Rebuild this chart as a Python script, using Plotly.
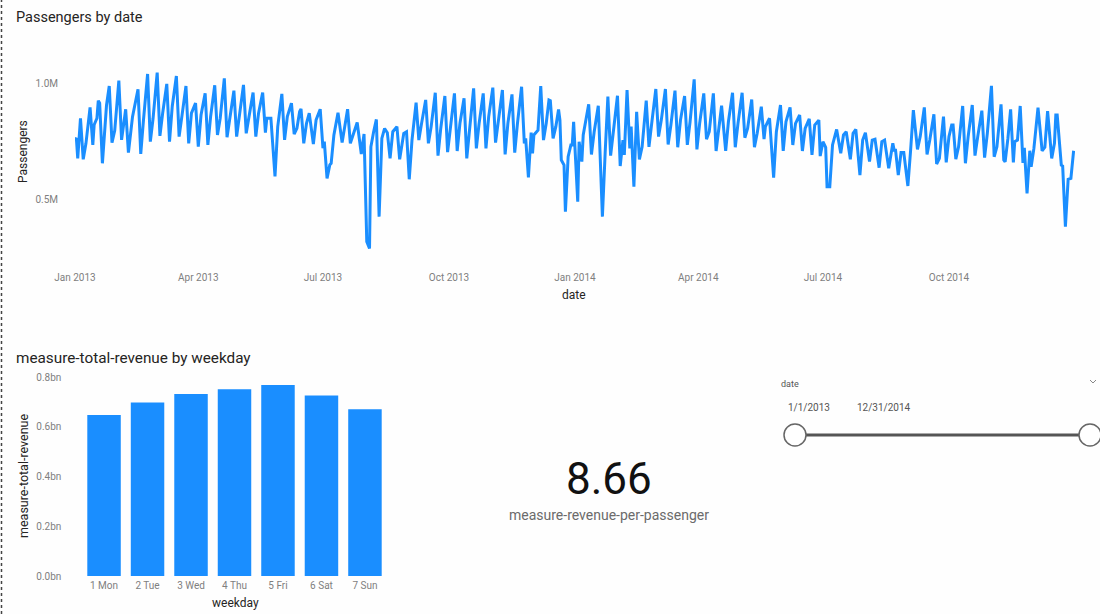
"""Passengers / revenue dashboard page rebuilt with plotly."""

import pandas as pd
import plotly.graph_objects as go

W, H = 1100, 614

days_2013 = [
    0, 1, 2, 4, 6, 8, 11, 13, 14, 16,
    17, 18, 20, 22, 23, 25, 27, 29, 32, 34,
    37, 39, 41, 42, 46, 48, 50, 53, 55, 57,
    60, 62, 64, 67, 69, 71, 74, 76, 78, 81,
    83, 85, 88, 90, 92, 95, 97, 99, 102, 104,
    106, 109, 111, 113, 116, 118, 120, 123, 125, 127,
    130, 132, 134, 137, 139, 140, 143, 146, 148, 151,
    153, 155, 158, 160, 162, 164, 165, 167, 169, 171,
    174, 176, 179, 181, 182, 184, 186, 187, 189, 192,
    195, 199, 201, 206, 209, 211, 213, 215, 216, 218,
    220, 222, 224, 226, 228, 230, 232, 235, 237, 240,
    242, 244, 246, 249, 251, 253, 256, 258, 260, 263,
    265, 267, 270, 272, 274, 277, 279, 281, 284, 286,
    288, 291, 293, 295, 298, 300, 302, 305, 307, 309,
    312, 314, 316, 319, 321, 323, 326, 328, 329, 331,
    333, 334, 335, 338, 340, 342, 344, 346, 347, 349,
    351, 353, 354, 355, 357, 358, 360, 362, 363, 364,
]
passengers_2013 = [
    .757, .762, .675, .848, .671, .74, .895, .733, .82, .848,
    .924, .913, .654, .826, .904, .987, .743, .795, 1.01, .755,
    .887, .70, .81, .855, .973, .694, .841, 1.039, .747, .848,
    1.045, .772, .87, .996, .747, .90, 1.03, .769, .855, .987,
    .74, .87, .913, .726, .862, .956, .733, .855, .99, .776,
    .848, 1.02, .766, .84, .967, .769, .855, .992, .783, .855,
    .959, .769, .87, .959, .786, .848, .848, .597, .812, .953,
    .755, .855, .913, .78, .805, .877, .888, .74, .826, .87,
    .737, .841, .887, .719, .747, .589, .647, .654, .776, .872,
    .743, .887, .74, .83, .694, .78, .316, .287, .725, .79,
    .843, .424, .761, .804, .786, .675, .79, .812, .671, .783,
    .79, .585, .754, .915, .754, .826, .927, .74, .812, .958,
    .687, .804, .944, .702, .804, .955, .707, .826, .934, .675,
    .797, .977, .718, .826, .955, .718, .855, .98, .743, .826,
    .97, .692, .826, .951, .70, .826, .984, .74, .761, .593,
    .786, .697, .776, .797, .987, .754, .826, .927, .924, .761,
    .812, .886, .84, .668, .646, .445, .682, .733, .733, .833,
]
days_2014 = [
    367, 368, 370, 371, 375, 377, 379, 382, 385, 387,
    389, 391, 393, 396, 398, 400, 401, 403, 405, 406,
    408, 410, 412, 414, 417, 419, 421, 424, 426, 428,
    431, 433, 435, 438, 440, 442, 445, 447, 449, 452,
    454, 456, 459, 461, 463, 466, 468, 470, 472, 475,
    477, 480, 482, 484, 487, 489, 491, 494, 496, 498,
    501, 503, 504, 507, 510, 512, 515, 517, 519, 522,
    524, 526, 529, 531, 533, 536, 538, 540, 543, 544,
    546, 548, 549, 551, 553, 556, 559, 561, 563, 566,
    568, 570, 573, 575, 577, 580, 582, 584, 587, 589,
    591, 594, 597, 598, 599, 601, 603, 605, 608, 610,
    612, 615, 617, 620, 622, 624, 627, 629, 631, 634,
    636, 638, 640, 641, 643, 645, 648, 650, 652, 655,
    657, 659, 662, 664, 666, 669, 671, 673, 676, 678,
    679, 681, 683, 685, 686, 688, 690, 692, 693, 695,
    697, 698, 700, 703, 706, 708, 710, 713, 715, 716,
    717, 720, 721, 723, 725, 727, 729,
]
passengers_2014 = [
    .488, .747, .661, .776, .908, .692, .79, .902, .424, .697,
    .941, .687, .797, .945, .642, .754, .69, .97, .718, .812,
    .553, .876, .671, .725, .924, .725, .826, .974, .769, .84,
    .974, .735, .819, .967, .723, .84, .944, .733, .833, 1.016,
    .714, .826, .955, .758, .79, .955, .707, .812, .902, .707,
    .833, .958, .723, .826, .958, .764, .804, .929, .723, .783,
    .898, .758, .812, .848, .592, .79, .905, .707, .833, .895,
    .733, .826, .862, .707, .804, .845, .69, .819, .84, .685,
    .747, .723, .553, .553, .733, .80, .697, .776, .79, .671,
    .783, .80, .603, .754, .786, .661, .754, .758, .635, .747,
    .754, .632, .74, .71, .71, .603, .70, .70, .556, .711,
    .883, .714, .769, .895, .692, .754, .865, .651, .675, .855,
    .658, .769, .819, .819, .672, .725, .901, .654, .769, .905,
    .687, .769, .881, .678, .783, .988, .682, .725, .908, .668,
    .66, .76, .886, .658, .747, .754, .901, .656, .721, .524,
    .708, .639, .718, .894, .708, .723, .879, .675, .74, .862,
    .862, .646, .642, .381, .585, .589, .708,
]
date_ticks = ["2013-01-01", "2013-04-01", "2013-07-01", "2013-10-01",
              "2014-01-01", "2014-04-01", "2014-07-01", "2014-10-01"]
date_tick_labels = ["Jan 2013", "Apr 2013", "Jul 2013", "Oct 2013",
                    "Jan 2014", "Apr 2014", "Jul 2014", "Oct 2014"]

weekdays = ["1 Mon", "2 Tue", "3 Wed", "4 Thu", "5 Fri", "6 Sat", "7 Sun"]
revenue_bn = [0.648, 0.699, 0.733, 0.752, 0.769, 0.727, 0.671]

FONT = "Roboto"
BLUE = "#1A8EFF"
TITLE = "#252423"
TICK = "#7F7F7F"


def px(x):
    return x / W


def py(y):
    return 1 - y / H


def label(x, y, text, size, color=TITLE, anchor="left", angle=0):
    return dict(x=px(x), y=py(y), xref="paper", yref="paper", text=text, showarrow=False,
                xanchor=anchor, yanchor="middle", textangle=angle,
                font=dict(family=FONT, size=size, color=color))


dates = pd.Timestamp("2013-01-01") + pd.to_timedelta(days_2013 + days_2014, unit="D")

fig = go.Figure()
fig.add_trace(go.Scatter(x=dates, y=passengers_2013 + passengers_2014, mode="lines",
                         line=dict(color=BLUE, width=3), xaxis="x", yaxis="y"))
fig.add_trace(go.Bar(x=weekdays, y=revenue_bn, marker=dict(color=BLUE, line_width=0),
                     xaxis="x2", yaxis="y2"))

fig.update_layout(
    width=W, height=H, margin=dict(l=0, r=0, t=0, b=0),
    paper_bgcolor="#FEFEFE", plot_bgcolor="#FEFEFE",
    showlegend=False, bargap=0.23,
    font=dict(family=FONT, size=11, color=TICK),
    xaxis=dict(domain=[px(75), px(1075)], anchor="y", type="date", automargin=False,
               range=["2013-01-01", "2015-01-01"],
               tickvals=date_ticks, ticktext=date_tick_labels, showgrid=False,
               zeroline=False, showline=False, tickfont=dict(size=10, color=TICK),
               ticklabelstandoff=2),
    yaxis=dict(domain=[py(268), py(60)], anchor="x", automargin=False,
               range=[(315 - 268) / 232, (315 - 60) / 232],
               tickvals=[0.5, 1.0], ticktext=["0.5M", "1.0M"], showgrid=False,
               zeroline=False, showline=False, tickfont=dict(size=10, color=TICK),
               ticklabelstandoff=16),
    xaxis2=dict(domain=[px(82.3), px(386.7)], anchor="y2", type="category", automargin=False,
                showgrid=False, zeroline=False, showline=False,
                tickfont=dict(size=10, color=TICK), ticklabelstandoff=2),
    yaxis2=dict(domain=[py(576), py(377.3)], anchor="x2", automargin=False, range=[0, 0.8],
                tickvals=[0, 0.2, 0.4, 0.6, 0.8],
                ticktext=["0.0bn", "0.2bn", "0.4bn", "0.6bn", "0.8bn"],
                showgrid=False, zeroline=False, showline=False,
                tickfont=dict(size=10, color=TICK), ticklabelstandoff=20),
    annotations=[
        label(14, 17, "Passengers by date", 14.5),
        label(14, 358, "measure-total-revenue by weekday", 15.3),
        label(574, 295, "date", 12, anchor="center"),
        label(23, 152, "Passengers", 12, anchor="center", angle=-90),
        label(235, 603, "weekday", 12, anchor="center"),
        label(23, 476, "measure-total-revenue", 12.5, anchor="center", angle=-90),
        label(609, 479, "8.66", 44, color="#111111", anchor="center"),
        label(609, 515, "measure-revenue-per-passenger", 14, color="#6B6B6B", anchor="center"),
        label(779, 384, "date", 9, color="#555555"),
        label(786, 407, "1/1/2013", 10, color="#555555"),
        label(855, 407, "12/31/2014", 10, color="#555555"),
    ],
    shapes=[
        # report page edge
        dict(type="line", xref="paper", yref="paper", x0=px(1.5), x1=px(1.5), y0=0, y1=1,
             line=dict(color="#444444", width=1.5, dash="dot")),
        # date slicer
        dict(type="line", xref="paper", yref="paper", x0=px(805), x1=px(1080), y0=py(435), y1=py(435),
             line=dict(color="#555555", width=3)),
        dict(type="circle", xref="paper", yref="paper", x0=px(784), x1=px(806), y0=py(424), y1=py(446),
             line=dict(color="#666666", width=1.5), fillcolor="#FFFFFF"),
        dict(type="circle", xref="paper", yref="paper", x0=px(1079), x1=px(1101), y0=py(424), y1=py(446),
             line=dict(color="#666666", width=1.5), fillcolor="#FFFFFF"),
        dict(type="path", xref="paper", yref="paper",
             path=f"M {px(1090)} {py(380)} L {px(1093)} {py(383)} L {px(1096)} {py(380)}",
             line=dict(color="#888888", width=1)),
    ],
)

fig.write_html("out.html", config={"displayModeBar": False},
               post_script="document.body.style.margin='0';")
